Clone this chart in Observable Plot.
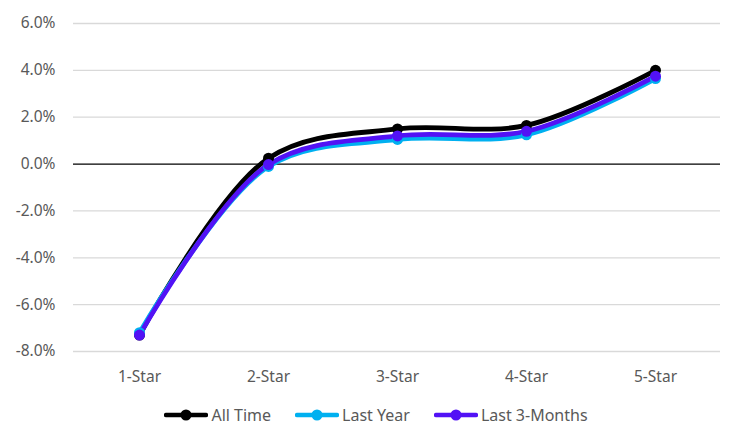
<!DOCTYPE html>
<html>
<head>
<meta charset="utf-8">
<script src="https://cdn.jsdelivr.net/npm/d3@7"></script>
<script src="https://cdn.jsdelivr.net/npm/@observablehq/plot@0.6"></script>
<style>
  body { margin: 0; background: #fff; font-family: "Noto Sans", sans-serif; }
  #chart { width: 744px; }
  .legend { display: flex; justify-content: center; align-items: center; gap: 24px; height: 40px; margin-left: 8px; font-size: 16px; color: #595959; }
  .legend .item { display: flex; align-items: center; gap: 3px; }
</style>
</head>
<body>
<div id="chart"></div>
<script>
const categories = ["1-Star", "2-Star", "3-Star", "4-Star", "5-Star"];
const seriesNames = ["All Time", "Last Year", "Last 3-Months"];
const allTime = [-7.3, 0.25, 1.5, 1.65, 4.0];
const lastYear = [-7.2, -0.1, 1.05, 1.25, 3.65];
const last3Months = [-7.3, -0.02, 1.2, 1.4, 3.75];
const colors = ["#000000", "#00B0F0", "#5212F5"];
const yTicks = [-8, -6, -4, -2, 0, 2, 4, 6];

const seriesValues = [allTime, lastYear, last3Months];
const data = [];
seriesNames.forEach((s, i) => categories.forEach((c, j) => data.push({series: s, cat: c, value: seriesValues[i][j]})));

const chart = Plot.plot({
  width: 744,
  height: 395,
  marginLeft: 73,
  marginRight: 24,
  marginTop: 23,
  marginBottom: 44,
  style: {fontFamily: "Noto Sans, sans-serif", fontSize: "15.5px", color: "#595959", background: "#fff"},
  x: {type: "point", domain: categories, padding: 0.5, label: null, tickSize: 0, tickPadding: 19},
  y: {domain: [-8, 6], ticks: yTicks, tickFormat: d => d.toFixed(1) + "%", label: null, tickSize: 0, tickPadding: 18},
  color: {domain: seriesNames, range: colors},
  marks: [
    Plot.gridY(yTicks.filter(d => d !== 0), {stroke: "#d9d9d9", strokeOpacity: 1, strokeWidth: 1.3}),
    Plot.ruleY([0], {stroke: "#000", strokeWidth: 1.2}),
    Plot.axisY({ticks: yTicks, tickFormat: d => d.toFixed(1) + "%", tickSize: 0, tickPadding: 18, label: null}),
    Plot.axisX({tickSize: 0, tickPadding: 19, label: null}),
    Plot.line(data, {x: "cat", y: "value", z: "series", stroke: "series", strokeWidth: 4.8, curve: "catmull-rom"}),
    Plot.dot(data, {x: "cat", y: "value", fill: "series", r: 5.5})
  ]
});
document.getElementById("chart").appendChild(chart);

const legend = document.createElement("div");
legend.className = "legend";
seriesNames.forEach((s, i) => {
  const item = document.createElement("div");
  item.className = "item";
  item.innerHTML = `<svg width="44" height="14"><line x1="2" y1="7" x2="42" y2="7" stroke="${colors[i]}" stroke-width="4.5" stroke-linecap="round"/><circle cx="22" cy="7" r="5.5" fill="${colors[i]}"/></svg><span>${s}</span>`;
  legend.appendChild(item);
});
document.getElementById("chart").appendChild(legend);
</script>
</body>
</html>
